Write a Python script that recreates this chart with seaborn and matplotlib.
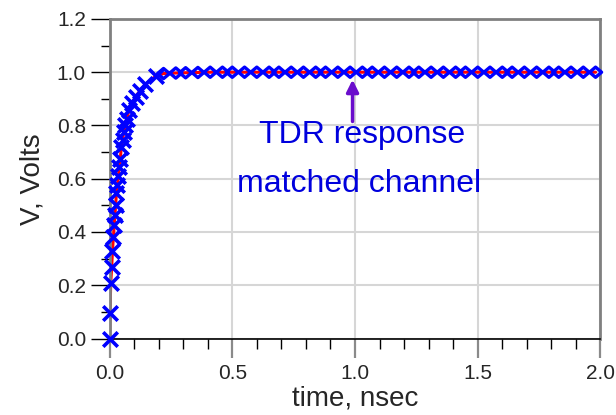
import numpy as np
import pandas as pd
import seaborn as sns
import matplotlib
matplotlib.use("Agg")
import matplotlib.pyplot as plt
from matplotlib.ticker import MultipleLocator, FormatStrFormatter
from matplotlib.path import Path

# ---- data ----
t_rise = [0.000, 0.002, 0.005, 0.009, 0.012, 0.016, 0.019, 0.022, 0.025, 0.028,
          0.032, 0.036, 0.040, 0.044, 0.048, 0.053, 0.058, 0.063, 0.070, 0.080,
          0.092, 0.106, 0.124, 0.146, 0.188]
v_rise = [0.000, 0.097, 0.210, 0.270, 0.330, 0.383, 0.427, 0.464, 0.500, 0.546,
          0.575, 0.610, 0.645, 0.675, 0.720, 0.745, 0.776, 0.800, 0.826, 0.858,
          0.883, 0.908, 0.930, 0.955, 0.985]
t_flat = [0.22, 0.27, 0.31, 0.36, 0.41, 0.46, 0.50, 0.55, 0.60, 0.65,
          0.69, 0.74, 0.79, 0.84, 0.88, 0.93, 0.98, 1.03, 1.07, 1.12,
          1.17, 1.22, 1.26, 1.31, 1.36, 1.41, 1.45, 1.50, 1.55, 1.60,
          1.64, 1.69, 1.74, 1.79, 1.83, 1.88, 1.93, 1.98]
v_flat = [0.995, 0.997, 0.998, 0.999, 1.0, 1.0, 1.0, 1.0, 1.0, 1.0,
          1.0, 1.0, 1.0, 1.0, 1.0, 1.0, 1.0, 1.0, 1.0, 1.0,
          1.0, 1.0, 1.0, 1.0, 1.0, 1.0, 1.0, 1.0, 1.0, 1.0,
          1.0, 1.0, 1.0, 1.0, 1.0, 1.0, 1.0, 1.0]
x_ticks = [0.0, 0.5, 1.0, 1.5, 2.0]
y_ticks = [0.0, 0.2, 0.4, 0.6, 0.8, 1.0, 1.2]
note_lines = ["TDR response", "matched channel"]

sns.set_style("white")
plt.rcParams['font.family'] = ['Liberation Sans', 'DejaVu Sans']

fig = plt.figure(figsize=(6.16, 4.15), dpi=100)
ax = fig.add_axes([0.1778, 0.1843, 0.797, 0.770])

df_line = pd.DataFrame({"t": t_rise + t_flat, "v": v_rise + v_flat})
sns.lineplot(data=df_line, x="t", y="v", color="red", linewidth=2.2,
             estimator=None, ax=ax, zorder=2)

sns.scatterplot(x=t_rise, y=v_rise, marker="x", color="blue", s=110,
                linewidth=2.6, ax=ax, zorder=3, clip_on=False)

diamond = Path([(-1, 0), (0, 0.85), (1, 0), (0, -0.85), (-1, 0)],
               [Path.MOVETO, Path.LINETO, Path.LINETO, Path.LINETO, Path.CLOSEPOLY])
sns.scatterplot(x=t_flat, y=v_flat, marker=diamond, color="blue", s=75,
                linewidth=2.4, ax=ax, zorder=3, clip_on=False)
coll = ax.collections[-1]
coll.set_facecolor("none")
coll.set_edgecolor("blue")

ax.set_xlim(0, 2.0)
ax.set_ylim(0, 1.2)
ax.set_xticks(x_ticks)
ax.set_yticks(y_ticks)
ax.xaxis.set_minor_locator(MultipleLocator(0.1))
ax.yaxis.set_minor_locator(MultipleLocator(0.1))
ax.xaxis.set_major_formatter(FormatStrFormatter('%.1f'))
ax.yaxis.set_major_formatter(FormatStrFormatter('%.1f'))

ax.tick_params(axis='x', which='major', direction='out', length=14, width=1.6,
               color='#8a8a8a', labelsize=15, pad=4, bottom=True)
ax.tick_params(axis='x', which='minor', direction='out', length=7, width=1,
               color='black', bottom=True)
ax.tick_params(axis='y', which='major', direction='out', length=14, width=1,
               color='black', labelsize=15, pad=3, left=True)
ax.tick_params(axis='y', which='minor', direction='out', length=6.5, width=1,
               color='black', left=True)

ax.grid(True, which='major', color='#d6d6d6', linewidth=1.5)
ax.set_axisbelow(True)

for s in ['left', 'top', 'right']:
    ax.spines[s].set_color('#808080')
    ax.spines[s].set_linewidth(2)
ax.spines['bottom'].set_color('black')
ax.spines['bottom'].set_linewidth(1.2)

ax.set_xlabel("time, nsec", fontsize=20, labelpad=2)
ax.set_ylabel("V, Volts", fontsize=20, labelpad=8)

ax.annotate("", xy=(0.99, 0.972), xytext=(0.99, 0.815),
            arrowprops=dict(arrowstyle='-|>', color='#6a0dcc', lw=2.5,
                            mutation_scale=18, shrinkA=0, shrinkB=0))
ax.text(1.028, 0.733, note_lines[0], ha='center', va='baseline',
        fontsize=23, color='#0000dd')
ax.text(1.016, 0.55, note_lines[1], ha='center', va='baseline',
        fontsize=23, color='#0000dd')

fig.savefig("out.png", dpi=100)
